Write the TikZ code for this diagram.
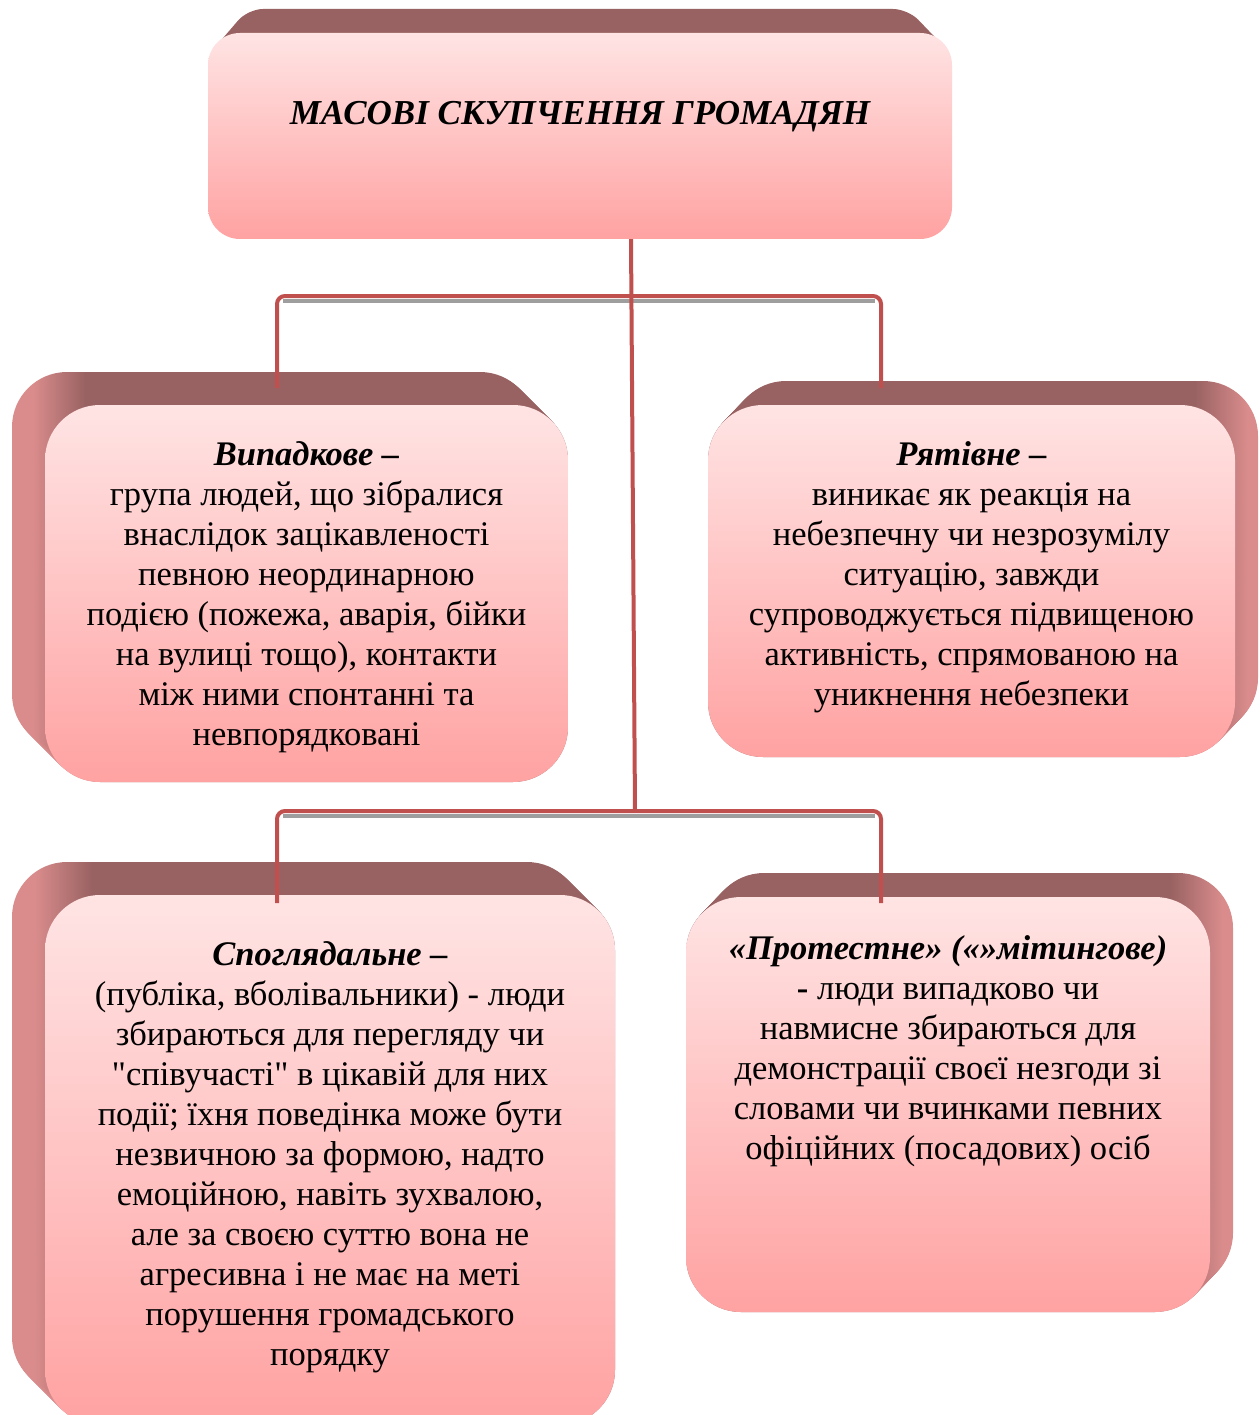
\documentclass[tikz,border=0pt]{standalone}
\usepackage{fontspec}
\setmainfont{Liberation Serif}[Ligatures=TeXOff]
\usetikzlibrary{positioning,calc}
\definecolor{facetop}{RGB}{255,228,228}
\definecolor{facebot}{RGB}{255,162,162}
\definecolor{rimdark}{RGB}{153,98,98}
\definecolor{rimlight}{RGB}{218,140,140}
\definecolor{linkred}{RGB}{192,80,77}
\pgfdeclarehorizontalshading{rimleft}{100bp}{color(0bp)=(rimlight); color(27bp)=(rimlight); color(32bp)=(rimdark); color(100bp)=(rimdark)}
\pgfdeclarehorizontalshading{rimright}{100bp}{color(0bp)=(rimdark); color(69bp)=(rimdark); color(74bp)=(rimlight); color(100bp)=(rimlight)}
% extruded back part of a box: x1 y1 x2 y2 dx dy shading
\newcommand{\rimbox}[7]{%
  \foreach \k in {0,...,30}{
    \shade[shading=#7, rounded corners=55pt] ({#1+#5*\k/30},{#2+#6*\k/30}) rectangle ({#3+#5*\k/30},{#4+#6*\k/30});
  }}
\tikzset{
  face/.style={rectangle, rounded corners=55pt, top color=facetop, bottom color=facebot, draw=none, inner sep=0pt},
  body/.style={align=center, inner sep=0pt, font=\fontsize{34.5pt}{40pt}\selectfont},
  link/.style={draw=linkred, line width=4pt, rounded corners=8pt},
  linkshadow/.style={draw=black!38, line width=4pt, transform canvas={yshift=-5pt}, shorten <=6pt, shorten >=6pt}
}
\begin{document}
\begin{tikzpicture}[x=1pt, y=-1pt]
\useasboundingbox (0,0) rectangle (1259,1415);

% back parts
\fill[rimdark, rounded corners=15pt] (211,52) -- (248,9) -- (908,9) -- (949,52) -- cycle;
\rimbox{45}{405}{568}{782}{-33}{-33}{rimleft}
\rimbox{708}{405}{1235}{757}{23}{-24}{rimright}
\rimbox{45}{895}{615}{1425}{-33}{-33}{rimleft}
\rimbox{686}{897}{1210}{1312}{23}{-24}{rimright}

% front faces
\node[face, rounded corners=32pt, minimum width=744pt, minimum height=206pt] (top) at (580,136) {};
\node[face, minimum width=523pt, minimum height=377pt] (caseA) at (306.5,593.5) {};
\node[face, minimum width=527pt, minimum height=352pt] (caseB) at (971.5,581) {};
\node[face, minimum width=570pt, minimum height=530pt] (caseC) at (330,1160) {};
\node[face, minimum width=524pt, minimum height=415pt] (caseD) at (948,1104.5) {};

% texts
\node[font=\fontsize{35pt}{40pt}\selectfont\bfseries\itshape] (title) at (580,117) {МАСОВІ СКУПЧЕННЯ ГРОМАДЯН};
\node[body, below=37pt of caseA.north] (txtA) {\textbf{\textit{Випадкове –}}\\
група людей, що зібралися\\
внаслідок зацікавленості\\
певною неординарною\\
подією (пожежа, аварія, бійки\\
на вулиці тощо), контакти\\
між ними спонтанні та\\
невпорядковані};
\node[body, below=37pt of caseB.north] (txtB) {\textbf{\textit{Рятівне –}}\\
виникає як реакція на\\
небезпечну чи незрозумілу\\
ситуацію, завжди\\
супроводжується підвищеною\\
активність, спрямованою на\\
уникнення небезпеки};
\node[body, below=47pt of caseC.north] (txtC) {\textbf{\textit{Споглядальне –}}\\
(публіка, вболівальники) - люди\\
збираються для перегляду чи\\
"співучасті" в цікавій для них\\
події; їхня поведінка може бути\\
незвичною за формою, надто\\
емоційною, навіть зухвалою,\\
але за своєю суттю вона не\\
агресивна і не має на меті\\
порушення громадського\\
порядку};
\node[body, below=39pt of caseD.north] (txtD) {\textbf{\textit{«Протестне» («»мітингове)}}\\
\textbf{-} люди випадково чи\\
навмисне збираються для\\
демонстрації своєї незгоди зі\\
словами чи вчинками певних\\
офіційних (посадових) осіб};

% connectors
\coordinate (hubA) at (631,296);
\coordinate (hubB) at (635,811);
\coordinate (inA) at (277,388);
\coordinate (inB) at (881,388);
\coordinate (inC) at (277,903);
\coordinate (inD) at (881,903);
\draw[linkshadow] (inA |- hubA) -- (inB |- hubA);
\draw[linkshadow] (inC |- hubB) -- (inD |- hubB);
\draw[link] (top.south -| hubA) -- (hubB);
\draw[link] (inA) -- (inA |- hubA) -- (inB |- hubA) -- (inB);
\draw[link] (inC) -- (inC |- hubB) -- (inD |- hubB) -- (inD);
\end{tikzpicture}
\end{document}
